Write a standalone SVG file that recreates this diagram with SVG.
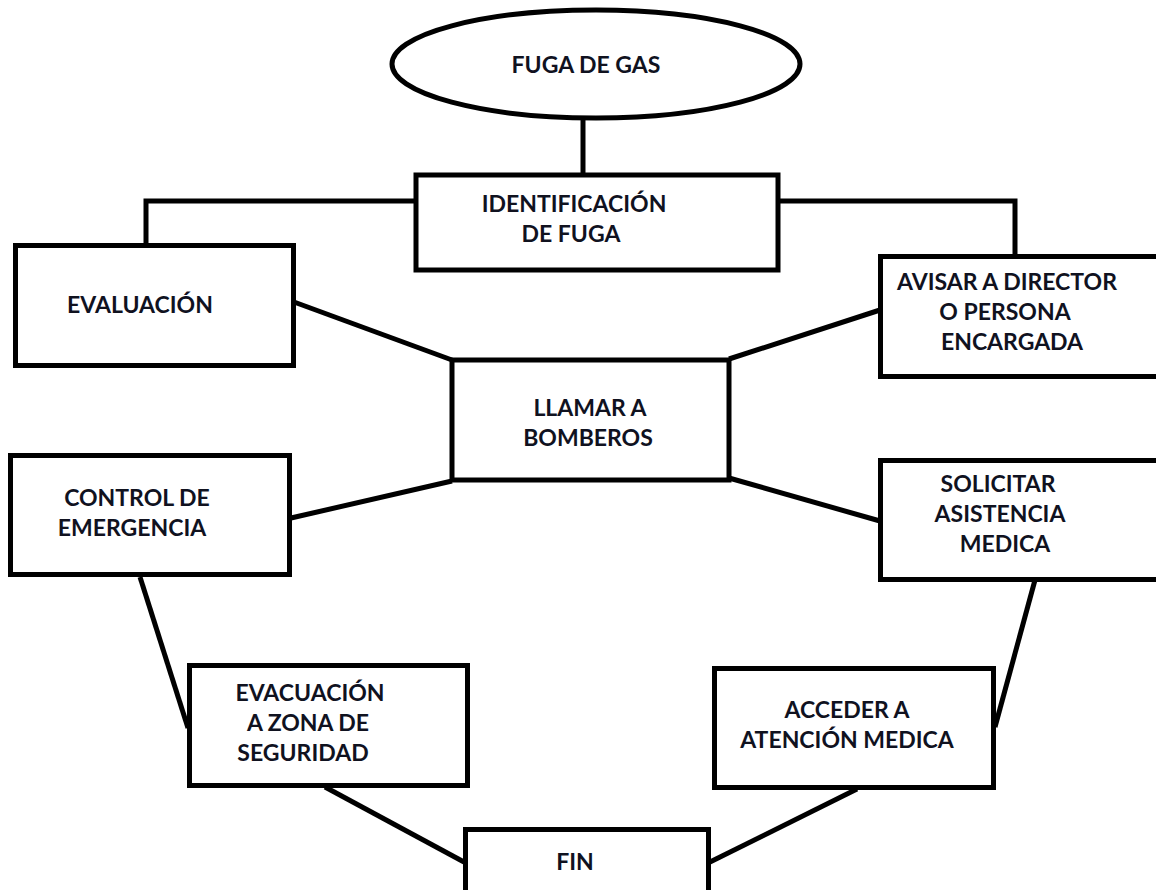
<svg xmlns="http://www.w3.org/2000/svg" width="1156" height="890" viewBox="0 0 1156 890">
<style>
.box{fill:#fff;stroke:#000;stroke-width:5}
.ln{fill:none;stroke:#000;stroke-width:5;stroke-linejoin:miter}
.t{font-family:Lato,"Liberation Sans",sans-serif;font-weight:bold;font-size:23px;fill:#10121f;text-anchor:middle}
</style>
<rect width="1156" height="890" fill="#fff"/>
<g id="connectors">
<line class="ln" x1="583" y1="119" x2="583" y2="174"/>
<polyline class="ln" points="415,201 146,201 146,245"/>
<polyline class="ln" points="779,201 1015,201 1015,256"/>
<line class="ln" x1="294" y1="302" x2="452" y2="360"/>
<line class="ln" x1="880" y1="310" x2="729" y2="359"/>
<line class="ln" x1="452" y1="481" x2="291" y2="518"/>
<line class="ln" x1="729" y1="478" x2="880" y2="521"/>
<line class="ln" x1="140" y1="577" x2="188" y2="728"/>
<line class="ln" x1="1035" y1="580" x2="995" y2="727"/>
<line class="ln" x1="325" y1="787" x2="464" y2="862"/>
<line class="ln" x1="710" y1="862" x2="857" y2="789"/>
</g>
<g id="n-fuga">
<ellipse class="box" cx="596" cy="64" rx="204" ry="54"/>
<text class="t" x="586" y="73">FUGA DE GAS</text>
</g>
<g id="n-identificacion">
<rect class="box" x="416" y="175" width="362" height="95"/>
<text class="t" x="574" y="212">IDENTIFICACIÓN</text>
<text class="t" x="571" y="242">DE FUGA</text>
</g>
<g id="n-evaluacion">
<rect class="box" x="15.5" y="245.5" width="278" height="120"/>
<text class="t" x="140" y="313">EVALUACIÓN</text>
</g>
<g id="n-avisar">
<rect class="box" x="880.5" y="256.5" width="280" height="120"/>
<text class="t" x="1007" y="290">AVISAR A DIRECTOR</text>
<text class="t" x="1005" y="320">O PERSONA</text>
<text class="t" x="1012" y="350">ENCARGADA</text>
</g>
<g id="n-llamar">
<rect class="box" x="452" y="360" width="277" height="120"/>
<text class="t" x="590" y="416">LLAMAR A</text>
<text class="t" x="588" y="446">BOMBEROS</text>
</g>
<g id="n-control">
<rect class="box" x="10.5" y="455.5" width="279" height="119"/>
<text class="t" x="137" y="506">CONTROL DE</text>
<text class="t" x="132" y="536">EMERGENCIA</text>
</g>
<g id="n-solicitar">
<rect class="box" x="880.5" y="460.5" width="280" height="119"/>
<text class="t" x="998" y="492">SOLICITAR</text>
<text class="t" x="1000" y="522">ASISTENCIA</text>
<text class="t" x="1005" y="552">MEDICA</text>
</g>
<g id="n-evacuacion">
<rect class="box" x="189.5" y="665.5" width="278" height="120"/>
<text class="t" x="310" y="701">EVACUACIÓN</text>
<text class="t" x="308" y="731">A ZONA DE</text>
<text class="t" x="303" y="761">SEGURIDAD</text>
</g>
<g id="n-acceder">
<rect class="box" x="714.5" y="668.5" width="279" height="119"/>
<text class="t" x="847" y="718">ACCEDER A</text>
<text class="t" x="847" y="748">ATENCIÓN MEDICA</text>
</g>
<g id="n-fin">
<rect class="box" x="465.5" y="829.5" width="243" height="65"/>
<text class="t" x="575" y="870">FIN</text>
</g>
</svg>
